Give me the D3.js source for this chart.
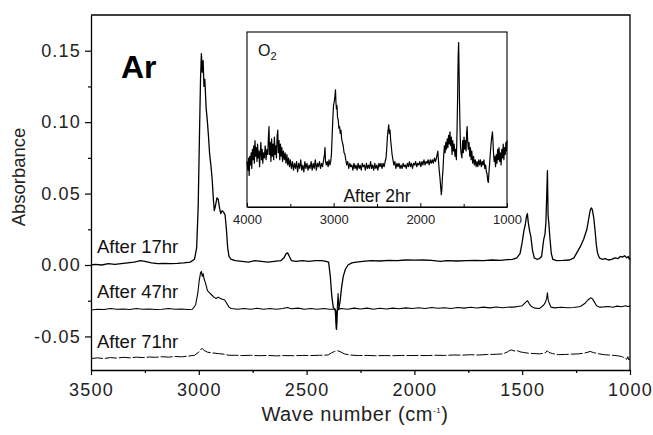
<!DOCTYPE html>
<html>
<head>
<meta charset="utf-8">
<script src="https://cdn.jsdelivr.net/npm/d3@7"></script>
<style>
  body { margin: 0; background: #fff; }
  svg { display: block; font-family: "Liberation Sans", Arial, sans-serif; }
</style>
</head>
<body>
<div class="container"></div>
<script>
// chart size
const width = 653;
const height = 435;

// axis ticks
const xMajor = [3500, 3000, 2500, 2000, 1500, 1000];
const xMinor = [3250, 2750, 2250, 1750, 1250];
const yMajor = [-0.05, 0.00, 0.05, 0.10, 0.15];
const yMinor = [-0.025, 0.025, 0.075, 0.125];
const insetTicks = [4000, 3000, 2000, 1000];
const insetMinor = [3500, 2500, 1500];

// trace labels
const traceLabels = ["After 17hr", "After 47hr", "After 71hr"];

// After 17hr  [wave number, absorbance]
const after17 = [
  [3500, 0.000], [3480, 0.0005], [3450, 0.000], [3420, 0.001], [3390, 0.0005], [3360, 0.001],
  [3330, 0.0015], [3300, 0.002], [3270, 0.003], [3250, 0.0025], [3220, 0.0015], [3190, 0.001],
  [3160, 0.0012], [3130, 0.001], [3100, 0.0012], [3070, 0.0015], [3040, 0.002], [3020, 0.004],
  [3010, 0.012], [3003, 0.04], [2997, 0.09], [2992, 0.13], [2988, 0.148], [2984, 0.135],
  [2980, 0.143], [2976, 0.125], [2972, 0.13], [2966, 0.11], [2960, 0.10], [2955, 0.09],
  [2950, 0.078], [2944, 0.07], [2938, 0.06], [2932, 0.045], [2928, 0.038], [2922, 0.042],
  [2916, 0.047], [2910, 0.046], [2904, 0.04], [2898, 0.036], [2892, 0.038], [2885, 0.037],
  [2878, 0.035], [2872, 0.025], [2866, 0.012], [2860, 0.006], [2850, 0.004], [2830, 0.003],
  [2800, 0.0025], [2770, 0.002], [2740, 0.003], [2710, 0.0025], [2680, 0.002], [2650, 0.0025],
  [2620, 0.003], [2605, 0.005], [2595, 0.008], [2588, 0.0085], [2580, 0.006], [2570, 0.003],
  [2550, 0.0025], [2520, 0.003], [2490, 0.0025], [2460, 0.003], [2430, 0.003], [2410, 0.0025],
  [2398, 0.002], [2390, -0.008], [2383, -0.022], [2376, -0.03], [2368, -0.031], [2364, -0.033],
  [2361, -0.045], [2358, -0.032], [2352, -0.031], [2345, -0.026], [2338, -0.016], [2330, -0.008],
  [2320, -0.003], [2308, 0.000], [2290, 0.0015], [2270, 0.002], [2240, 0.0025], [2200, 0.003],
  [2160, 0.0028], [2120, 0.0032], [2080, 0.003], [2040, 0.0035], [2000, 0.0034], [1960, 0.0035],
  [1920, 0.0032], [1880, 0.0025], [1850, 0.003], [1800, 0.0028], [1760, 0.003], [1720, 0.0032],
  [1680, 0.003], [1640, 0.0035], [1600, 0.0033], [1570, 0.0037], [1545, 0.004], [1525, 0.005],
  [1510, 0.008], [1500, 0.016], [1492, 0.024], [1486, 0.028], [1480, 0.034], [1476, 0.036],
  [1472, 0.03], [1466, 0.024], [1460, 0.02], [1452, 0.01], [1444, 0.005], [1432, 0.004],
  [1420, 0.0045], [1410, 0.006], [1400, 0.018], [1394, 0.022], [1390, 0.03], [1386, 0.05],
  [1383, 0.066], [1380, 0.035], [1377, 0.03], [1372, 0.02], [1365, 0.008], [1358, 0.004],
  [1340, 0.003], [1310, 0.0032], [1280, 0.0035], [1260, 0.005], [1245, 0.009], [1230, 0.013],
  [1215, 0.018], [1200, 0.025], [1192, 0.032], [1185, 0.038], [1180, 0.04], [1175, 0.039],
  [1168, 0.033], [1162, 0.024], [1156, 0.014], [1150, 0.008], [1142, 0.005], [1130, 0.004],
  [1115, 0.0045], [1100, 0.0035], [1085, 0.004], [1070, 0.005], [1055, 0.0045], [1045, 0.006],
  [1035, 0.0055], [1025, 0.0065], [1015, 0.005], [1008, 0.006], [1003, 0.004], [1000, 0.005]
];

// After 47hr
const after47 = [
  [3500, -0.0315], [3470, -0.031], [3440, -0.0312], [3410, -0.0305], [3380, -0.031], [3350, -0.0308],
  [3320, -0.0312], [3290, -0.0305], [3260, -0.031], [3230, -0.0308], [3200, -0.0312], [3170, -0.031],
  [3140, -0.0305], [3110, -0.031], [3080, -0.0308], [3050, -0.0312], [3030, -0.031], [3015, -0.028],
  [3005, -0.02], [2998, -0.011], [2992, -0.0055], [2988, -0.0045], [2984, -0.008], [2980, -0.006],
  [2975, -0.01], [2968, -0.013], [2960, -0.018], [2950, -0.0195], [2940, -0.021], [2930, -0.0225],
  [2920, -0.0235], [2910, -0.0225], [2900, -0.0235], [2890, -0.024], [2880, -0.0245], [2870, -0.027],
  [2860, -0.0295], [2850, -0.0305], [2820, -0.031], [2790, -0.0305], [2760, -0.031], [2730, -0.0303],
  [2700, -0.031], [2670, -0.0305], [2640, -0.031], [2610, -0.0305], [2590, -0.0298], [2570, -0.0306],
  [2540, -0.0302], [2510, -0.031], [2480, -0.0304], [2450, -0.031], [2420, -0.0305], [2395, -0.031],
  [2368, -0.031], [2362, -0.045], [2358, -0.031], [2354, -0.02], [2350, -0.031], [2340, -0.0305],
  [2310, -0.031], [2280, -0.0302], [2250, -0.0308], [2220, -0.0302], [2190, -0.031], [2160, -0.0303],
  [2130, -0.0308], [2100, -0.0302], [2070, -0.0306], [2040, -0.030], [2010, -0.0305], [1980, -0.0299],
  [1950, -0.0304], [1920, -0.0298], [1890, -0.0303], [1860, -0.0299], [1830, -0.0304], [1800, -0.0297],
  [1770, -0.0302], [1740, -0.0296], [1710, -0.0301], [1680, -0.0295], [1650, -0.030], [1620, -0.0294],
  [1590, -0.0299], [1560, -0.0294], [1540, -0.0295], [1520, -0.029], [1500, -0.0285], [1490, -0.027],
  [1480, -0.0255], [1475, -0.025], [1468, -0.027], [1458, -0.029], [1440, -0.0302], [1420, -0.0305],
  [1400, -0.028], [1392, -0.026], [1386, -0.023], [1383, -0.0195], [1380, -0.024], [1374, -0.027],
  [1366, -0.0295], [1350, -0.030], [1320, -0.0296], [1290, -0.0299], [1260, -0.0297], [1230, -0.029],
  [1210, -0.027], [1195, -0.0245], [1183, -0.023], [1175, -0.0235], [1165, -0.026], [1155, -0.0285],
  [1140, -0.0295], [1120, -0.0293], [1100, -0.029], [1080, -0.0296], [1060, -0.0288], [1040, -0.0292],
  [1020, -0.0285], [1010, -0.029], [1000, -0.0288]
];

// After 71hr
const after71 = [
  [3500, -0.0655], [3470, -0.065], [3440, -0.0655], [3410, -0.0648], [3380, -0.0652], [3350, -0.0646],
  [3320, -0.065], [3290, -0.0645], [3260, -0.0648], [3230, -0.0644], [3200, -0.0646], [3170, -0.0642],
  [3140, -0.0645], [3110, -0.064], [3080, -0.0643], [3050, -0.0638], [3020, -0.0632], [3000, -0.061],
  [2990, -0.059], [2984, -0.0585], [2975, -0.0598], [2960, -0.061], [2940, -0.0615], [2910, -0.062],
  [2880, -0.0625], [2860, -0.0632], [2830, -0.0632], [2800, -0.0634], [2760, -0.0632], [2720, -0.0635],
  [2680, -0.0633], [2640, -0.0636], [2600, -0.0634], [2560, -0.0635], [2520, -0.0633], [2480, -0.0634],
  [2440, -0.0632], [2400, -0.063], [2385, -0.0615], [2370, -0.0605], [2355, -0.060], [2340, -0.061],
  [2325, -0.0622], [2300, -0.063], [2260, -0.0634], [2220, -0.0633], [2180, -0.0635], [2140, -0.0634],
  [2100, -0.0635], [2060, -0.0633], [2020, -0.0634], [1980, -0.0633], [1940, -0.0634], [1900, -0.0632],
  [1860, -0.0633], [1820, -0.063], [1780, -0.0631], [1740, -0.0628], [1700, -0.063], [1660, -0.0626],
  [1620, -0.0625], [1590, -0.0622], [1570, -0.061], [1558, -0.0598], [1548, -0.0595], [1538, -0.0602],
  [1525, -0.0598], [1510, -0.0608], [1495, -0.0612], [1470, -0.0618], [1445, -0.062], [1420, -0.0622],
  [1400, -0.0618], [1390, -0.0612], [1384, -0.060], [1376, -0.0612], [1360, -0.062], [1330, -0.0628],
  [1300, -0.0626], [1270, -0.0624], [1240, -0.0622], [1215, -0.0618], [1195, -0.061], [1185, -0.0605],
  [1170, -0.0613], [1150, -0.062], [1120, -0.0628], [1100, -0.063], [1080, -0.0632], [1060, -0.0635],
  [1040, -0.064], [1025, -0.065], [1015, -0.066], [1010, -0.0642], [1005, -0.0665], [1000, -0.066]
];

// inset: O2, after 2hr (arbitrary units)
const insetO2 = [
  [4000, 0.26], [3990, 0.21], [3982, 0.28], [3975, 0.18], [3968, 0.29], [3960, 0.24], [3952, 0.31],
  [3945, 0.22], [3938, 0.33], [3930, 0.27], [3922, 0.35], [3915, 0.25], [3908, 0.38], [3900, 0.29],
  [3892, 0.34], [3885, 0.26], [3878, 0.36], [3870, 0.28], [3862, 0.32], [3855, 0.23], [3848, 0.30],
  [3840, 0.37], [3832, 0.27], [3825, 0.33], [3818, 0.25], [3810, 0.31], [3800, 0.28], [3790, 0.35],
  [3780, 0.27], [3770, 0.33], [3760, 0.30], [3752, 0.41], [3746, 0.46], [3740, 0.30], [3732, 0.37],
  [3724, 0.26], [3716, 0.39], [3708, 0.29], [3700, 0.36], [3692, 0.27], [3684, 0.40], [3676, 0.30],
  [3668, 0.35], [3660, 0.28], [3652, 0.41], [3645, 0.44], [3638, 0.31], [3630, 0.38], [3622, 0.27],
  [3614, 0.36], [3606, 0.29], [3598, 0.34], [3590, 0.26], [3580, 0.32], [3570, 0.27], [3560, 0.31],
  [3550, 0.25], [3540, 0.30], [3530, 0.24], [3520, 0.28], [3510, 0.23], [3500, 0.27], [3488, 0.22],
  [3476, 0.26], [3464, 0.21], [3452, 0.25], [3440, 0.22], [3428, 0.26], [3416, 0.20], [3404, 0.25],
  [3392, 0.22], [3380, 0.27], [3368, 0.21], [3356, 0.24], [3344, 0.20], [3332, 0.26], [3320, 0.22],
  [3308, 0.25], [3296, 0.21], [3284, 0.24], [3272, 0.22], [3260, 0.26], [3248, 0.21], [3236, 0.25],
  [3224, 0.22], [3212, 0.27], [3200, 0.21], [3188, 0.25], [3176, 0.23], [3164, 0.26], [3152, 0.22],
  [3140, 0.25], [3128, 0.23], [3116, 0.27], [3106, 0.30], [3100, 0.34], [3094, 0.26], [3084, 0.24],
  [3074, 0.26], [3064, 0.23], [3054, 0.27], [3044, 0.24], [3034, 0.26], [3026, 0.30], [3018, 0.40],
  [3010, 0.50], [3002, 0.58], [2994, 0.60], [2986, 0.63], [2979, 0.67], [2974, 0.60], [2968, 0.56],
  [2962, 0.58], [2955, 0.51], [2948, 0.50], [2940, 0.45], [2932, 0.46], [2924, 0.42], [2916, 0.44],
  [2908, 0.39], [2900, 0.37], [2890, 0.35], [2880, 0.31], [2870, 0.30], [2860, 0.27], [2850, 0.24],
  [2838, 0.26], [2826, 0.22], [2814, 0.25], [2802, 0.23], [2790, 0.24], [2778, 0.21], [2766, 0.25],
  [2754, 0.22], [2742, 0.24], [2730, 0.21], [2718, 0.25], [2706, 0.22], [2694, 0.24], [2682, 0.21],
  [2670, 0.25], [2658, 0.23], [2646, 0.24], [2634, 0.21], [2622, 0.25], [2610, 0.22], [2598, 0.24],
  [2586, 0.22], [2574, 0.26], [2562, 0.22], [2550, 0.24], [2538, 0.21], [2526, 0.25], [2514, 0.22],
  [2502, 0.24], [2490, 0.21], [2478, 0.25], [2466, 0.23], [2454, 0.25], [2442, 0.22], [2430, 0.25],
  [2418, 0.23], [2406, 0.26], [2396, 0.28], [2388, 0.33], [2380, 0.40], [2372, 0.44], [2365, 0.47],
  [2358, 0.42], [2350, 0.44], [2342, 0.38], [2334, 0.34], [2326, 0.30], [2316, 0.27], [2306, 0.24],
  [2294, 0.26], [2282, 0.22], [2270, 0.25], [2258, 0.23], [2246, 0.25], [2234, 0.22], [2222, 0.24],
  [2210, 0.22], [2198, 0.25], [2186, 0.23], [2174, 0.24], [2162, 0.22], [2150, 0.25], [2138, 0.23],
  [2126, 0.26], [2114, 0.23], [2102, 0.25], [2090, 0.22], [2078, 0.25], [2066, 0.24], [2054, 0.26],
  [2042, 0.23], [2030, 0.25], [2018, 0.24], [2006, 0.26], [1994, 0.23], [1982, 0.26], [1970, 0.24],
  [1958, 0.27], [1946, 0.24], [1934, 0.26], [1922, 0.25], [1910, 0.27], [1898, 0.24], [1886, 0.27],
  [1874, 0.25], [1862, 0.27], [1850, 0.25], [1838, 0.28], [1826, 0.26], [1814, 0.28], [1806, 0.30],
  [1798, 0.32], [1790, 0.26], [1782, 0.21], [1774, 0.17], [1766, 0.12], [1758, 0.07], [1752, 0.10],
  [1746, 0.16], [1738, 0.22], [1730, 0.30], [1722, 0.35], [1714, 0.31], [1706, 0.37], [1698, 0.33],
  [1690, 0.39], [1682, 0.34], [1674, 0.41], [1666, 0.36], [1658, 0.43], [1650, 0.35], [1642, 0.40],
  [1634, 0.30], [1626, 0.38], [1618, 0.32], [1610, 0.36], [1600, 0.29], [1592, 0.33], [1584, 0.27],
  [1576, 0.45], [1570, 0.62], [1564, 0.85], [1558, 0.94], [1553, 0.78], [1548, 0.60], [1542, 0.45],
  [1536, 0.34], [1528, 0.30], [1520, 0.28], [1512, 0.38], [1504, 0.31], [1496, 0.40], [1488, 0.33],
  [1480, 0.38], [1472, 0.32], [1466, 0.42], [1460, 0.46], [1454, 0.38], [1446, 0.33], [1438, 0.37],
  [1430, 0.29], [1422, 0.34], [1414, 0.27], [1406, 0.32], [1396, 0.25], [1386, 0.29], [1376, 0.24],
  [1366, 0.27], [1356, 0.23], [1346, 0.26], [1336, 0.23], [1326, 0.27], [1316, 0.24], [1306, 0.27],
  [1296, 0.23], [1286, 0.26], [1276, 0.24], [1266, 0.27], [1256, 0.22], [1246, 0.24], [1238, 0.20],
  [1230, 0.19], [1222, 0.15], [1215, 0.14], [1208, 0.20], [1200, 0.25], [1192, 0.31], [1184, 0.36],
  [1176, 0.40], [1168, 0.43], [1162, 0.38], [1156, 0.31], [1148, 0.26], [1140, 0.29], [1132, 0.23],
  [1124, 0.30], [1116, 0.25], [1108, 0.33], [1100, 0.27], [1092, 0.34], [1084, 0.26], [1076, 0.31],
  [1068, 0.24], [1060, 0.33], [1052, 0.28], [1044, 0.36], [1036, 0.27], [1028, 0.34], [1020, 0.30],
  [1012, 0.37], [1006, 0.32], [1000, 0.38]
];

const svg = d3.select(".container")
  .append("svg")
  .attr("width", width)
  .attr("height", height);

// main scales
const xScale = d3.scaleLinear().domain([3500, 1000]).range([91, 630]);
const yScale = d3.scaleLinear().domain([-0.0735, 0.175]).range([370, 15]);

const line = d3.line()
  .x(d => xScale(d[0]))
  .y(d => yScale(d[1]));

// plain hyphen for negative numbers, like the original
const yFormat = d => d3.format(".2f")(d).replace("\u2212", "-");

// frame (top and right edges)
svg.append("path")
  .attr("d", `M${xScale(3500)},${yScale(0.175)}H${xScale(1000)}V${yScale(-0.0735)}`)
  .attr("fill", "none")
  .attr("stroke", "#000")
  .attr("stroke-width", 1.3);

// x axis, major and minor ticks
const xAxisG = svg.append("g")
  .attr("transform", `translate(0,${yScale(-0.0735)})`)
  .call(d3.axisBottom(xScale).tickValues(xMajor).tickSize(5).tickSizeOuter(0).tickPadding(8)
    .tickFormat(d3.format("d")));
svg.append("g")
  .attr("transform", `translate(0,${yScale(-0.0735)})`)
  .call(d3.axisBottom(xScale).tickValues(xMinor).tickSize(3).tickFormat(""))
  .select(".domain").remove();

// y axis, major and minor ticks
const yAxisG = svg.append("g")
  .attr("transform", `translate(${xScale(3500)},0)`)
  .call(d3.axisLeft(yScale).tickValues(yMajor).tickSize(6).tickSizeOuter(0).tickPadding(4)
    .tickFormat(yFormat));
svg.append("g")
  .attr("transform", `translate(${xScale(3500)},0)`)
  .call(d3.axisLeft(yScale).tickValues(yMinor).tickSize(3).tickFormat(""))
  .select(".domain").remove();

svg.selectAll(".domain").attr("stroke-width", 1.3);
svg.selectAll(".tick line").attr("stroke-width", 1.2);
xAxisG.selectAll("text")
  .attr("font-size", "18px")
  .attr("letter-spacing", "1.2px")
  .attr("fill", "#222");
yAxisG.selectAll("text")
  .attr("font-size", "18px")
  .attr("letter-spacing", "1.2px")
  .attr("fill", "#222");

// axis titles
svg.append("text")
  .attr("transform", "translate(25,177) rotate(-90)")
  .attr("text-anchor", "middle")
  .attr("font-size", "18.5px")
  .attr("fill", "#222")
  .text("Absorbance");

const xTitle = svg.append("text")
  .attr("x", 355)
  .attr("y", 421)
  .attr("text-anchor", "middle")
  .attr("font-size", "20px")
  .attr("letter-spacing", "0.6px")
  .attr("fill", "#222");
xTitle.append("tspan").text("Wave number (cm");
xTitle.append("tspan").attr("font-size", "8px").attr("dy", -8).text("-1");
xTitle.append("tspan").attr("dy", 8).text(")");

// traces
const traces = [after17, after47, after71];
const traceWidths = [1.3, 1.1, 1.0];
svg.append("g")
  .selectAll("path")
  .data(traces)
  .join("path")
  .attr("d", line)
  .attr("fill", "none")
  .attr("stroke", "#000")
  .attr("stroke-width", (d, i) => traceWidths[i])
  .attr("stroke-dasharray", (d, i) => i === 2 ? "12,2" : null)
  .attr("stroke-linejoin", "round");

// trace labels
const labelY = [253, 298, 348];
svg.append("g")
  .selectAll("text")
  .data(traceLabels)
  .join("text")
  .attr("x", 97)
  .attr("y", (d, i) => labelY[i])
  .attr("font-size", "18.5px")
  .attr("fill", "#111")
  .text(d => d);

// "Ar"
svg.append("text")
  .attr("x", 121)
  .attr("y", 78)
  .attr("font-size", "32px")
  .attr("font-weight", "bold")
  .text("Ar");

// inset
const ix = d3.scaleLinear().domain([4000, 1000]).range([247, 507]);
const iy = d3.scaleLinear().domain([0, 1]).range([207, 32]);

svg.append("rect")
  .attr("x", ix(4000))
  .attr("y", iy(1))
  .attr("width", ix(1000) - ix(4000))
  .attr("height", iy(0) - iy(1))
  .attr("fill", "#fff")
  .attr("stroke", "#000")
  .attr("stroke-width", 1.1);

const insetAxis = svg.append("g")
  .attr("transform", `translate(0,${iy(0)})`)
  .call(d3.axisBottom(ix).tickValues(insetTicks).tickSize(-4).tickSizeOuter(0).tickPadding(8)
    .tickFormat(d3.format("d")));
svg.append("g")
  .attr("transform", `translate(0,${iy(0)})`)
  .call(d3.axisBottom(ix).tickValues(insetMinor).tickSize(-3).tickFormat(""))
  .select(".domain").remove();
insetAxis.selectAll("text")
  .attr("font-size", "13px")
  .attr("fill", "#222");

svg.append("path")
  .datum(insetO2)
  .attr("d", d3.line().x(d => ix(d[0])).y(d => iy(d[1])))
  .attr("fill", "none")
  .attr("stroke", "#000")
  .attr("stroke-width", 1.2)
  .attr("stroke-linejoin", "round");

const o2 = svg.append("text")
  .attr("x", 258)
  .attr("y", 56)
  .attr("font-size", "16px")
  .attr("fill", "#111");
o2.append("tspan").text("O");
o2.append("tspan").attr("font-size", "11px").attr("dy", 4).text("2");

svg.append("text")
  .attr("x", 377)
  .attr("y", 202)
  .attr("text-anchor", "middle")
  .attr("font-size", "17.5px")
  .attr("fill", "#111")
  .text("After 2hr");
</script>
</body>
</html>
